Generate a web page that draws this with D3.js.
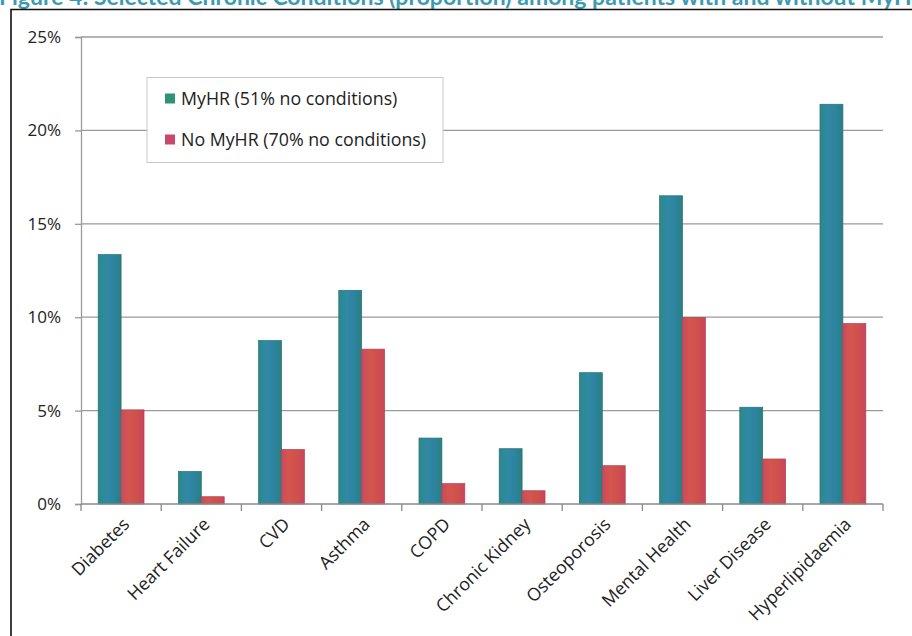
<!DOCTYPE html>
<html>
<head>
<meta charset="utf-8">
<script src="https://cdn.jsdelivr.net/npm/d3@7"></script>
<style>
  html, body { margin: 0; padding: 0; background: #fff; }
  svg { display: block; }
  text { font-family: "Open Sans", "DejaVu Sans", sans-serif; }
</style>
</head>
<body>
<div id="chart"></div>
<script>
// chart data
const categories = ['Diabetes', 'Heart Failure', 'CVD', 'Asthma', 'COPD', 'Chronic Kidney',
  'Osteoporosis', 'Mental Health', 'Liver Disease', 'Hyperlipidaemia'];
const seriesNames = ['MyHR (51% no conditions)', 'No MyHR (70% no conditions)'];
const myhr = [13.35, 1.74, 8.75, 11.44, 3.53, 2.96, 7.03, 16.5, 5.18, 21.4];
const noMyhr = [5.04, 0.39, 2.92, 8.29, 1.09, 0.71, 2.05, 9.98, 2.41, 9.66];
const yTicks = [0, 5, 10, 15, 20, 25];
const titleText = 'Figure 4: Selected Chronic Conditions (proportion) among patients with and without MyHR';

const W = 912, H = 636;
const margin = { top: 37, right: 29, bottom: 132, left: 81 };
const width = W - margin.left - margin.right;
const height = H - margin.top - margin.bottom;

const svg = d3.select('#chart').append('svg')
  .attr('width', W)
  .attr('height', H);

// gradients for the bars
const defs = svg.append('defs');
const gradStops = [
  ['gBlue', ['#2a8a84', '#3089a6', '#2d84a0', '#29807f']],
  ['gRed', ['#c94a5f', '#d4564f', '#d0504c', '#c7465d']],
];
gradStops.forEach(([id, cols]) => {
  const g = defs.append('linearGradient').attr('id', id)
    .attr('x1', '0%').attr('x2', '100%').attr('y1', '0%').attr('y2', '0%');
  cols.forEach((c, i) => g.append('stop')
    .attr('offset', (i / (cols.length - 1)) * 100 + '%')
    .attr('stop-color', c));
});

// title (clipped at top of page, as in the source)
svg.append('text')
  .attr('x', -1)
  .attr('y', 5)
  .attr('fill', '#3a9bb2')
  .attr('font-weight', 'bold')
  .attr('font-size', 23)
  .style('font-family', 'Lato, "Open Sans", sans-serif')
  .text(titleText);

// frame
svg.append('path')
  .attr('d', `M11,${H} L11,9.5 L${W},9.5`)
  .attr('fill', 'none')
  .attr('stroke', '#111')
  .attr('stroke-width', 1.6);

const g = svg.append('g')
  .attr('transform', 'translate(' + margin.left + ',' + margin.top + ')');

// scales
const x0 = d3.scaleBand().domain(categories).range([0, width]).padding(0);
const x1 = d3.scaleBand().domain([0, 1]).range([0, x0.bandwidth()])
  .paddingInner(0).paddingOuter(0.75);
const y = d3.scaleLinear().domain([0, 25]).range([height, 0]);

// gridlines
g.append('g')
  .selectAll('line')
  .data(yTicks.filter(t => t > 0))
  .enter()
  .append('line')
  .attr('x1', 0).attr('x2', width)
  .attr('y1', d => y(d)).attr('y2', d => y(d))
  .attr('stroke', '#9a9a9a')
  .attr('stroke-width', 1.3);

// y axis
const yAxis = g.append('g')
  .call(d3.axisLeft(y).tickValues(yTicks).tickSize(6).tickPadding(14)
    .tickFormat(d => d + '%'));
yAxis.select('.domain').attr('stroke', '#9a9a9a').attr('stroke-width', 1.3);
yAxis.selectAll('.tick line').attr('stroke', '#9a9a9a').attr('stroke-width', 1.3);
yAxis.selectAll('.tick text')
  .attr('font-size', 17)
  .attr('fill', '#222')
  .style('font-family', '"Open Sans", sans-serif');

// bars
const rows = categories.map((c, i) => ({ cat: c, vals: [myhr[i], noMyhr[i]] }));
const grp = g.selectAll('.grp')
  .data(rows)
  .enter()
  .append('g')
  .attr('class', 'grp')
  .attr('transform', d => 'translate(' + x0(d.cat) + ',0)');

grp.selectAll('rect')
  .data(d => d.vals.map((v, k) => ({ k, v })))
  .enter()
  .append('rect')
  .attr('x', d => x1(d.k))
  .attr('width', x1.bandwidth())
  .attr('y', d => y(d.v))
  .attr('height', d => height - y(d.v))
  .attr('fill', d => d.k === 0 ? 'url(#gBlue)' : 'url(#gRed)')
  .attr('stroke', d => d.k === 0 ? '#246f78' : '#b2424e')
  .attr('stroke-width', 0.7);

// x axis
const xAxisG = g.append('g')
  .attr('transform', 'translate(0,' + height + ')');
xAxisG.append('line')
  .attr('x1', 0).attr('x2', width)
  .attr('stroke', '#8a8a8a').attr('stroke-width', 1.3);
xAxisG.selectAll('.xt')
  .data(categories.concat(['__end']))
  .enter()
  .append('line')
  .attr('x1', d => d === '__end' ? width : x0(d))
  .attr('x2', d => d === '__end' ? width : x0(d))
  .attr('y1', 0).attr('y2', 7)
  .attr('stroke', '#8a8a8a').attr('stroke-width', 1.3);

xAxisG.selectAll('.xl')
  .data(categories)
  .enter()
  .append('text')
  .attr('transform', d => 'translate(' + (x0(d) + x0.bandwidth() / 2 + 5) + ',17) rotate(-45)')
  .attr('text-anchor', 'end')
  .attr('dy', '0.35em')
  .attr('font-size', 17.8)
  .attr('fill', '#222')
  .text(d => d);

// legend
const leg = svg.append('g').attr('transform', 'translate(147,77.5)');
leg.append('rect')
  .attr('width', 296).attr('height', 85)
  .attr('fill', '#fff')
  .attr('stroke', '#c8c8c8').attr('stroke-width', 1);
const legCols = ['#2d9278', '#c9476a'];
seriesNames.forEach((name, i) => {
  const ly = 21 + i * 41;
  leg.append('rect')
    .attr('x', 18).attr('y', ly - 5)
    .attr('width', 10).attr('height', 10)
    .attr('fill', legCols[i]);
  leg.append('text')
    .attr('x', 34).attr('y', ly)
    .attr('dy', '0.35em')
    .attr('font-size', 17.8)
    .attr('fill', '#222')
    .text(name);
});
</script>
</body>
</html>
